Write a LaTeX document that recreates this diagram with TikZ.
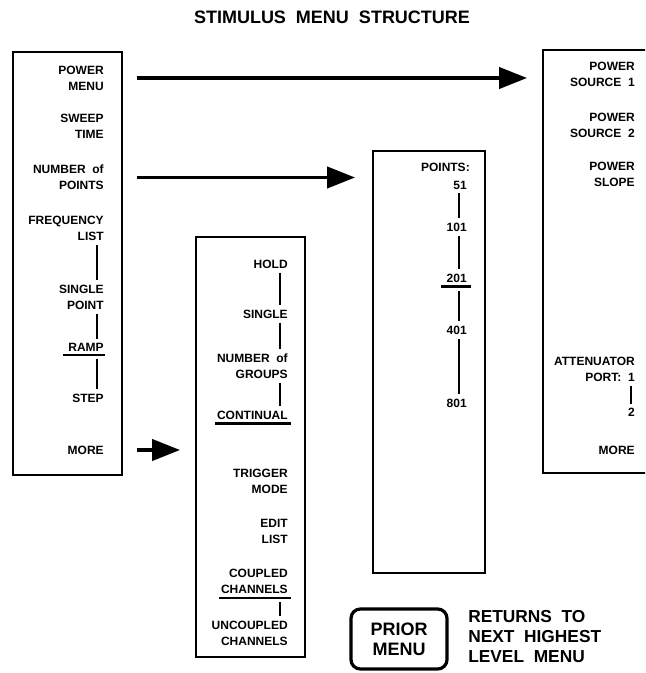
\documentclass[tikz,border=0pt]{standalone}
\usepackage{fontspec}
\setmainfont{Liberation Sans}
\usetikzlibrary{arrows.meta}
\begin{document}
\begin{tikzpicture}[x=0.75pt,y=-0.75pt,
  panel/.style={draw, line width=1.5pt, inner sep=0pt, outer sep=0pt},
  lbl/.style={font=\fontsize{9}{12}\selectfont\bfseries, inner sep=0pt, anchor=east, align=right},
  vl/.style={line width=1.6pt, shorten <=3pt, shorten >=3pt},
  ul/.style={line width=1.6pt},
  bigarrow/.style={line width=2.4pt, -{Triangle[length=21pt,width=16pt]}},
  ]
\useasboundingbox (0,0) rectangle (645,673);

\node[font=\fontsize{13.5}{16}\selectfont\bfseries] (title) at (332,17) {STIMULUS\ \ MENU\ \ STRUCTURE};

% left panel
\node[panel, minimum width=81.75pt, minimum height=317.25pt] (lbox) at (67.5,263.5) {};
\node[lbl] (pmenu) at (104,78) {POWER\\MENU};
\node[lbl] (sweep) at (104,126.5) {SWEEP\\TIME};
\node[lbl] (npts) at (104,177.5) {NUMBER\ \ of\\POINTS};
\node[lbl] (flist) at (104,228.5) {FREQUENCY\\LIST};
\node[lbl] (spoint) at (104,297) {SINGLE\\POINT};
\node[lbl] (ramp) at (104,347) {RAMP};
\node[lbl] (step) at (104,398) {STEP};
\node[lbl] (lmore) at (104,450) {MORE};
\coordinate (Lx) at (97,0);
\coordinate (rampu) at ([yshift=-3pt]ramp.south);
\draw[vl] (flist.south -| Lx) -- (spoint.north -| Lx);
\draw[vl] (spoint.south -| Lx) -- (ramp.north -| Lx);
\draw[ul] ([xshift=-4pt,yshift=-3pt]ramp.south west) -- ([xshift=1pt,yshift=-3pt]ramp.south east);
\draw[vl] (rampu -| Lx) -- (step.north -| Lx);

% middle panel
\node[panel, minimum width=81.75pt, minimum height=315pt] (mbox) at (250.5,447) {};
\node[lbl] (hold) at (288,264) {HOLD};
\node[lbl] (msingle) at (288,314) {SINGLE};
\node[lbl] (ngroups) at (288,366) {NUMBER\ \ of\\GROUPS};
\node[lbl] (cont) at (288,415) {CONTINUAL};
\node[lbl] (trig) at (288,481.5) {TRIGGER\\MODE};
\node[lbl] (edit) at (288,531.5) {EDIT\\LIST};
\node[lbl] (coup) at (288,581.5) {COUPLED\\CHANNELS};
\node[lbl] (uncoup) at (288,633) {UNCOUPLED\\CHANNELS};
\coordinate (Mx) at (280,0);
\coordinate (coupu) at ([yshift=-3pt]coup.south);
\draw[vl] (hold.south -| Mx) -- (msingle.north -| Mx);
\draw[vl] (msingle.south -| Mx) -- (ngroups.north -| Mx);
\draw[vl] (ngroups.south -| Mx) -- (cont.north -| Mx);
\draw[ul] ([xshift=-1pt,yshift=-3pt]cont.south west) -- ([xshift=2pt,yshift=-3pt]cont.south east);
\draw[ul] ([xshift=-1pt,yshift=-3pt]coup.south west) -- ([xshift=2pt,yshift=-3pt]coup.south east);
\draw[vl] (coupu -| Mx) -- (uncoup.north -| Mx);

% points panel
\node[panel, minimum width=84pt, minimum height=316.5pt] (pbox) at (429,362) {};
\node[lbl] (ptitle) at (470,167) {POINTS:};
\node[lbl] (p51) at (467,185) {51};
\node[lbl] (p101) at (467,227) {101};
\node[lbl] (p201) at (467,278) {201};
\node[lbl] (p401) at (467,330) {401};
\node[lbl] (p801) at (467,403) {801};
\coordinate (Px) at (459,0);
\coordinate (p201u) at ([yshift=-3pt]p201.south);
\draw[vl] (p51.south -| Px) -- (p101.north -| Px);
\draw[vl] (p101.south -| Px) -- (p201.north -| Px);
\draw[ul] ([xshift=-4pt,yshift=-3pt]p201.south west) -- ([xshift=3pt,yshift=-3pt]p201.south east);
\draw[vl] (p201u -| Px) -- (p401.north -| Px);
\draw[vl] (p401.south -| Px) -- (p801.north -| Px);

% right panel (cut off at the page edge)
\begin{scope}
\clip (0,0) rectangle (645,673);
\node[panel, minimum width=82.5pt, minimum height=317.25pt] (rbox) at (598,261.5) {};
\end{scope}
\node[lbl] (ps1) at (635,74.5) {POWER\\SOURCE\ \ 1};
\node[lbl] (ps2) at (635,125) {POWER\\SOURCE\ \ 2};
\node[lbl] (pslope) at (635,174.5) {POWER\\SLOPE};
\node[lbl] (atten) at (635,369.5) {ATTENUATOR\\PORT:\ \ 1};
\node[lbl] (port2) at (635,412) {2};
\node[lbl] (rmore) at (635,450) {MORE};
\coordinate (Rx) at (631,0);
\draw[vl] (atten.south -| Rx) -- (port2.north -| Rx);

% arrows
\draw[bigarrow, shorten <=11pt, shorten >=12pt] (lbox.east |- pmenu) -- (rbox.west |- pmenu);
\draw[bigarrow, shorten <=11pt, shorten >=13.5pt] (lbox.east |- npts) -- (pbox.west |- npts);
\draw[bigarrow, shorten <=11pt, shorten >=12pt] (lbox.east |- lmore) -- (mbox.west |- lmore);

% prior menu legend
\node[draw, line width=2.4pt, rounded corners=7pt, minimum width=72pt, minimum height=45pt,
  inner sep=0pt, font=\fontsize{13.5}{15}\selectfont\bfseries, align=center] (prior) at (399,639) {PRIOR\\MENU};
\node[font=\fontsize{13}{15}\selectfont\bfseries, align=left, anchor=west, inner sep=0pt] (ret) at (468,637)
  {RETURNS\ \ TO\\NEXT\ \ HIGHEST\\LEVEL\ \ MENU};
\end{tikzpicture}
\end{document}
